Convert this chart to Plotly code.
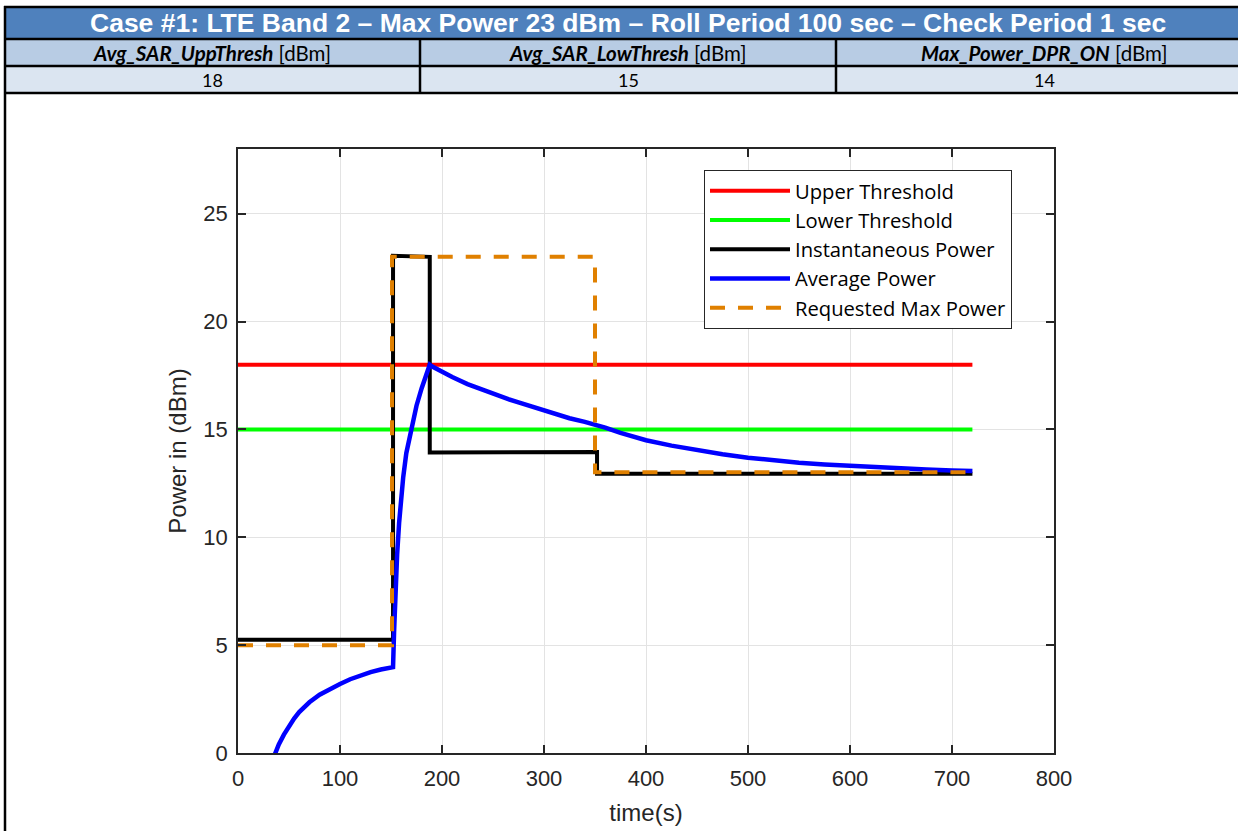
import plotly.graph_objects as go

# ---------------- data ----------------
title_text = "Case #1: LTE Band 2 \u2013 Max Power 23 dBm \u2013 Roll Period 100 sec \u2013 Check Period 1 sec"
param_names = ["Avg_SAR_UppThresh", "Avg_SAR_LowThresh", "Max_Power_DPR_ON"]
param_units = ["[dBm]", "[dBm]", "[dBm]"]
param_values = ["18", "15", "14"]

upper_thresh = 18
lower_thresh = 15
t_thresh = [0, 720]

t_inst = [0, 152, 152, 188, 188, 352, 352, 720]
p_inst = [5.25, 5.25, 23.05, 23.0, 13.93, 13.95, 12.95, 12.95]

t_req = [0, 151, 151, 350, 350, 720]
p_req = [5.0, 5.0, 23.0, 23.0, 13.02, 13.02]

t_avg = [35, 40, 45, 50, 55, 60, 65, 70, 80, 90, 100, 110, 120, 130, 140, 152,
         153, 154, 155, 156, 158, 160, 162, 165, 170, 175, 180, 184, 188,
         190, 195, 200, 210, 225, 240, 250, 265, 275, 290, 300, 315, 325, 340, 352,
         360, 375, 400, 425, 450, 475, 500, 525, 550, 575, 600, 625, 650, 675, 700, 720]
p_avg = [-0.2, 0.4, 0.85, 1.25, 1.6, 1.9, 2.14, 2.35, 2.7, 2.96, 3.2, 3.42, 3.6, 3.75, 3.87, 3.98,
         5.6, 7.0, 8.2, 9.2, 10.7, 11.9, 12.8, 13.9, 15.1, 16.1, 16.9, 17.5, 18.0,
         17.93, 17.8, 17.68, 17.43, 17.1, 16.82, 16.65, 16.4, 16.25, 16.02, 15.88, 15.66, 15.52, 15.35, 15.2,
         15.08, 14.84, 14.5, 14.25, 14.03, 13.85, 13.69, 13.56, 13.45, 13.37, 13.3, 13.24, 13.18, 13.14, 13.1, 13.07]

x_ticks = [0, 100, 200, 300, 400, 500, 600, 700, 800]
y_ticks = [0, 5, 10, 15, 20, 25]

# ---------------- layout helpers ----------------
W, H = 1238, 831
L, R, T, B = 238, 1054, 149, 753


def px(x):
    return (x - L) / (R - L)


def py(y):
    return (B - y) / (B - T)


FONT = "Liberation Sans, Arial, sans-serif"
TXT = "#262626"

fig = go.Figure()

fig.add_trace(go.Scatter(x=t_thresh, y=[upper_thresh] * len(t_thresh), mode="lines",
                         name="Upper Threshold", line=dict(color="#FF0000", width=4),
                         legendgroup="a"))
fig.add_trace(go.Scatter(x=t_thresh, y=[lower_thresh] * len(t_thresh), mode="lines",
                         name="Lower Threshold", line=dict(color="#00FF00", width=4),
                         legendgroup="b"))
fig.add_trace(go.Scatter(x=t_inst, y=p_inst, mode="lines",
                         name="Instantaneous Power", line=dict(color="#000000", width=4),
                         legendgroup="c"))
fig.add_trace(go.Scatter(x=t_avg, y=p_avg, mode="lines",
                         name="Average Power", line=dict(color="#0000FF", width=4.5),
                         legendgroup="d"))
fig.add_trace(go.Scatter(x=t_req, y=p_req, mode="lines",
                         name="Requested Max Power",
                         line=dict(color="#E08000", width=4, dash="15px,13px"),
                         legendgroup="e"))

shapes = []
# header table fills
fills = [(7, 39, "#4F81BD"), (39, 66, "#B8CCE4"), (66, 93, "#DBE5F1")]
for y0, y1, c in fills:
    shapes.append(dict(type="rect", xref="paper", yref="paper",
                       x0=px(5), x1=px(1252), y0=py(y1), y1=py(y0),
                       fillcolor=c, line=dict(width=0)))
for yy in [7, 39, 66, 93]:
    shapes.append(dict(type="line", xref="paper", yref="paper",
                       x0=px(4), x1=px(1252), y0=py(yy), y1=py(yy),
                       line=dict(color="black", width=2.5)))
shapes.append(dict(type="line", xref="paper", yref="paper",
                   x0=px(5), x1=px(5), y0=py(6), y1=py(835),
                   line=dict(color="black", width=2.5)))
for xx in [420, 836]:
    shapes.append(dict(type="line", xref="paper", yref="paper",
                       x0=px(xx), x1=px(xx), y0=py(39), y1=py(93),
                       line=dict(color="black", width=2.5)))

annotations = [dict(xref="paper", yref="paper", x=px(628), y=py(23),
                    text="<b>" + title_text + "</b>", showarrow=False,
                    font=dict(family=FONT, size=26.5, color="white"),
                    xanchor="center", yanchor="middle")]
col_centers = [212, 628, 1044]
for cx, nm, un, val in zip(col_centers, param_names, param_units, param_values):
    annotations.append(dict(xref="paper", yref="paper", x=px(cx), y=py(53),
                            text="<b><i>" + nm + "</i></b> " + un, showarrow=False,
                            font=dict(family="Lato, sans-serif", size=20.5, color="black"),
                            xanchor="center", yanchor="middle"))
    annotations.append(dict(xref="paper", yref="paper", x=px(cx), y=py(80),
                            text=val, showarrow=False,
                            font=dict(family="Lato, sans-serif", size=18, color="black"),
                            xanchor="center", yanchor="middle"))

axis_common = dict(showline=True, linecolor=TXT, linewidth=1.5, mirror="ticks",
                   ticks="inside", ticklen=8, tickwidth=1.5, tickcolor=TXT,
                   showgrid=True, gridcolor="#E3E3E3", gridwidth=1, zeroline=False,
                   automargin=False,
                   tickfont=dict(family=FONT, size=22, color=TXT))

fig.update_layout(
    width=W, height=H, autosize=False,
    margin=dict(l=L, r=W - R, t=T, b=H - B),
    paper_bgcolor="white", plot_bgcolor="white",
    xaxis=dict(range=[0, 800], tickvals=x_ticks, ticklabelstandoff=5, **axis_common,
               title=dict(text="time(s)", font=dict(family=FONT, size=24, color=TXT), standoff=14)),
    yaxis=dict(range=[0, 28], tickvals=y_ticks, ticklabelstandoff=4, **axis_common,
               title=dict(text="Power in (dBm)", font=dict(family=FONT, size=24, color=TXT), standoff=10)),
    legend=dict(x=px(704), y=py(170), xanchor="left", yanchor="top",
                bgcolor="white", bordercolor=TXT, borderwidth=1,
                font=dict(family="Open Sans, sans-serif", size=20.2, color="black"),
                tracegroupgap=0, itemwidth=80),
    shapes=shapes, annotations=annotations,
    showlegend=True,
)

fig.write_html("out.html", config={"displayModeBar": False},
               post_script="document.body.style.margin='0';document.body.style.overflow='hidden';")
